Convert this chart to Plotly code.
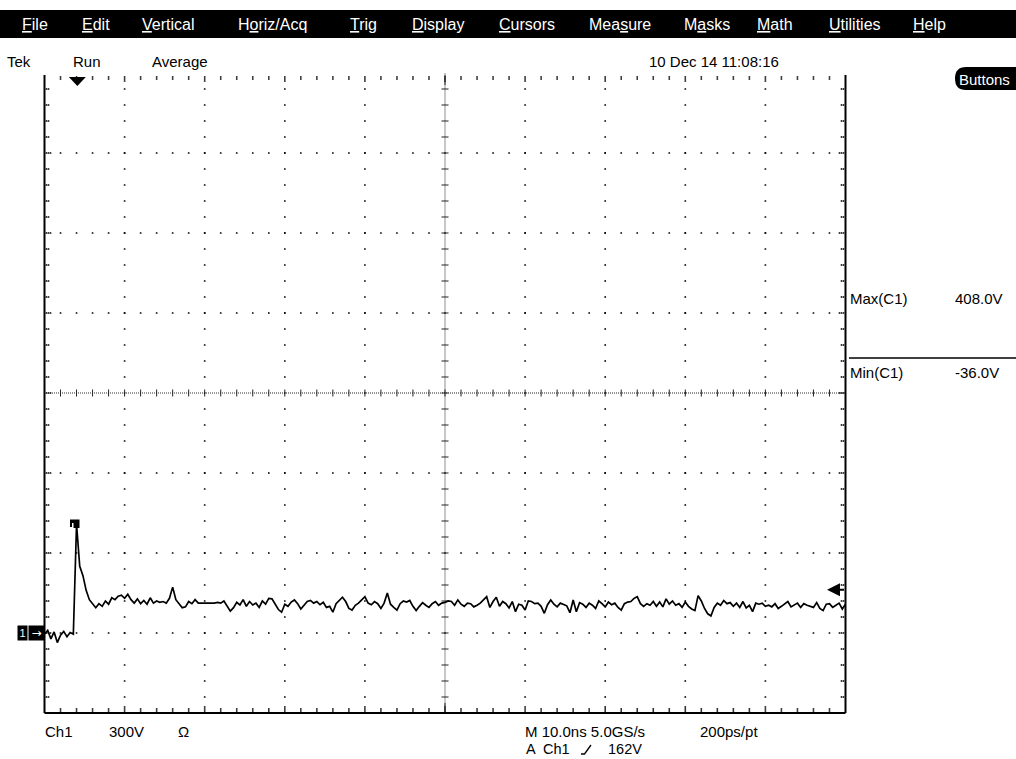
import numpy as np
import plotly.graph_objects as go

W, H = 1016, 759
FONT = "Liberation Sans, Arial, sans-serif"

# ---- acquisition settings ----
volts_per_div = 300
ns_per_div = 10
sample_step_ns = 0.4
trigger_level_v = 162
trigger_pos_ns = 4.1
ground_div_from_bottom = 1          # channel 1 ground marker position

# ---- Ch1 record (volts), one value every 0.4 ns from 0 to 100 ns ----
ch1_volts = [
    # 0.0 - 24.8 ns
    -4, 10, -22, 4, -36, -8, 6, -14, 2, -4,
    408, 250, 215, 160, 125, 108, 95, 110, 100, 120,
    108, 132, 125, 138, 142, 130, 145, 125, 112, 128,
    110, 122, 108, 132, 112, 120, 115, 118, 112, 130,
    172, 125, 110, 95, 98, 118, 110, 125, 112, 112,
    112, 112, 112, 112, 115, 112, 120, 100, 82, 95,
    115, 105, 125,
    # 25.2 - 50.0 ns
    100, 118, 105, 112, 96, 120, 108, 130, 128, 110,
    88, 78, 108, 100, 116, 124, 110, 90, 104, 118,
    122, 112, 118, 106, 115, 96, 100, 78, 110, 122,
    134, 118, 92, 86, 104, 112, 126, 136, 112, 106,
    118, 110, 92, 112, 150, 108, 96, 86, 110, 120,
    116, 122, 100, 84, 100, 114, 104, 96, 110, 118,
    104, 112, 115,
    # 50.4 - 75.2 ns
    120, 118, 104, 124, 108, 100, 112, 110, 98, 104,
    112, 124, 136, 96, 118, 134, 100, 118, 110, 94,
    118, 80, 108, 104, 86, 120, 118, 110, 112, 100,
    74, 106, 124, 108, 98, 112, 108, 102, 76, 124,
    80, 114, 108, 96, 112, 104, 92, 120, 110, 98,
    116, 106, 112, 96, 86, 110, 116, 118, 130, 136,
    110, 100, 110,
    # 75.6 - 100.0 ns
    104, 118, 100, 116, 98, 128, 108, 120, 104,
    110, 96, 116, 100, 90, 84, 140, 120, 92, 72,
    64, 96, 112, 104, 122, 110, 114, 100, 112, 96,
    118, 94, 104, 80, 112, 108, 112, 100, 104, 98,
    110, 92, 100, 108, 118, 98, 106, 112, 96, 110,
    104, 100, 96, 114, 92, 84, 108, 110, 96, 104,
    112, 90, 108,
]
assert len(ch1_volts) == 251, len(ch1_volts)
t_ns = np.arange(len(ch1_volts)) * sample_step_ns

# ---- menu bar ----
menu_items = ["<u>F</u>ile", "<u>E</u>dit", "<u>V</u>ertical", "H<u>o</u>riz/Acq",
              "<u>T</u>rig", "<u>D</u>isplay", "<u>C</u>ursors", "Mea<u>s</u>ure",
              "M<u>a</u>sks", "<u>M</u>ath", "<u>U</u>tilities", "<u>H</u>elp"]
menu_x = [21, 81, 141, 237, 349, 411, 498, 588, 683, 756, 828, 912]

# ---- graticule geometry (pixels) ----
L, R, T, B = 44.5, 845.5, 73.0, 713.0
n_xdiv, n_ydiv = 10, 8
x_min, x_max = 0.0, n_xdiv * ns_per_div
y_min = -ground_div_from_bottom * volts_per_div
y_max = y_min + n_ydiv * volts_per_div
px_per_ns = (R - L) / (x_max - x_min)
px_per_v = (B - T) / (y_max - y_min)
minor_x = ns_per_div / 5
minor_y = volts_per_div / 5
x_mid = (x_min + x_max) / 2
y_mid = (y_min + y_max) / 2


def fx(p):
    return p / W


def fy(p):
    return 1 - p / H


fig = go.Figure()

# ---- graticule dots on the division lines ----
gx, gy = [], []
for k in range(1, n_xdiv):
    xv = k * ns_per_div
    if xv == x_mid:
        continue
    for yv in np.arange(y_min + minor_y, y_max - 1e-6, minor_y):
        gx.append(xv); gy.append(yv)
for j in range(1, n_ydiv):
    yv = y_min + j * volts_per_div
    if yv == y_mid:
        continue
    for xv in np.arange(x_min + minor_x, x_max - 1e-6, minor_x):
        gx.append(xv); gy.append(yv)

# frame ticks (dots pointing inward)
for yv in np.arange(y_min + minor_y, y_max - 1e-6, minor_y):
    major = abs((yv - y_min) % volts_per_div) < 1e-6
    offs = [2, 4, 6] if major else [2, 4]
    for o in offs:
        gx.append(x_min + o / px_per_ns); gy.append(yv)
        gx.append(x_max - o / px_per_ns); gy.append(yv)
for xv in np.arange(x_min + minor_x, x_max - 1e-6, minor_x):
    major = abs(xv % ns_per_div) < 1e-6
    offs = [2, 4, 6] if major else [2, 4]
    for o in offs:
        gx.append(xv); gy.append(y_min + o / px_per_v)
        gx.append(xv); gy.append(y_max - (o + 2) / px_per_v)

fig.add_trace(go.Scatter(x=gx, y=gy, mode="markers", hoverinfo="skip",
                         marker=dict(symbol="square", size=1.6, color="black",
                                     line=dict(width=0))))

# centre cross: fine dots every 2 px
cx, cy = [], []
for yv in np.arange(y_min, y_max + 1e-6, 2 / px_per_v):
    cx.append(x_mid); cy.append(yv)
for xv in np.arange(x_min, x_max + 1e-6, 2 / px_per_ns):
    cx.append(xv); cy.append(y_mid)
fig.add_trace(go.Scatter(x=cx, y=cy, mode="markers", hoverinfo="skip",
                         marker=dict(symbol="square", size=1.1, color="#333",
                                     line=dict(width=0))))

# centre-cross tick marks
tx, ty = [], []
for yv in np.arange(y_min + minor_y, y_max - 1e-6, minor_y):
    tx += [x_mid - 3.5 / px_per_ns, x_mid + 3.5 / px_per_ns, None]
    ty += [yv, yv, None]
for xv in np.arange(x_min + minor_x, x_max - 1e-6, minor_x):
    tx += [xv, xv, None]
    ty += [y_mid - 3.5 / px_per_v, y_mid + 3.5 / px_per_v, None]
# longer centre ticks on the top and bottom edges
tx += [x_mid, x_mid, None, x_mid, x_mid, None]
ty += [y_min, y_min + 10 / px_per_v, None, y_max - 2 / px_per_v, y_max - 12 / px_per_v, None]
fig.add_trace(go.Scatter(x=tx, y=ty, mode="lines", hoverinfo="skip",
                         line=dict(color="#222", width=1)))

# ---- waveform ----
fig.add_trace(go.Scatter(x=t_ns, y=ch1_volts, mode="lines", hoverinfo="skip",
                         line=dict(color="black", width=1.7)))

shapes = []
# frame (no top edge)
for x0, y0, x1, y1 in [(L, T + 2, L, B), (L, B, R, B), (R, T + 2, R, B)]:
    shapes.append(dict(type="line", xref="paper", yref="paper",
                       x0=fx(x0), y0=fy(y0), x1=fx(x1), y1=fy(y1),
                       line=dict(color="black", width=2)))
# menu bar
shapes.append(dict(type="rect", xref="paper", yref="paper", x0=0, x1=1,
                   y0=fy(38), y1=fy(10), fillcolor="black", line=dict(width=0)))
# "Buttons" pill
shapes.append(dict(type="path", xref="paper", yref="paper",
                   path=(f"M {fx(966)} {fy(67)} L {fx(1022)} {fy(67)} L {fx(1022)} {fy(90)} "
                         f"L {fx(966)} {fy(90)} Q {fx(955)} {fy(90)} {fx(955)} {fy(78.5)} "
                         f"Q {fx(955)} {fy(67)} {fx(966)} {fy(67)} Z"),
                   fillcolor="black", line=dict(width=0)))
# measurement separator
shapes.append(dict(type="line", xref="paper", yref="paper",
                   x0=fx(849), x1=fx(1016), y0=fy(358), y1=fy(358),
                   line=dict(color="black", width=1.5)))
# trigger position marker
tp = L + (trigger_pos_ns - x_min) * px_per_ns
shapes.append(dict(type="path", xref="paper", yref="paper",
                   path=f"M {fx(tp - 8.5)} {fy(77)} L {fx(tp + 8.5)} {fy(77)} L {fx(tp)} {fy(86)} Z",
                   fillcolor="black", line=dict(width=0)))
# peak marker on the edge
shapes.append(dict(type="path", xref="paper", yref="paper",
                   path=(f"M {fx(70)} {fy(519.5)} L {fx(79.5)} {fy(519.5)} L {fx(79.5)} {fy(528)} "
                         f"L {fx(73.5)} {fy(528)} L {fx(73.5)} {fy(523)} L {fx(72)} {fy(523)} "
                         f"L {fx(72)} {fy(527)} L {fx(70)} {fy(527)} Z"),
                   fillcolor="black", line=dict(width=0)))
# rising-slope symbol
shapes.append(dict(type="path", xref="paper", yref="paper",
                   path=f"M {fx(581)} {fy(754)} L {fx(584.5)} {fy(754)} L {fx(591)} {fy(745)}",
                   line=dict(color="black", width=1.3)))
fig.update_layout(shapes=shapes)


def label(text, x, y, size=15, color="black", family=FONT, anchor="left"):
    fig.add_annotation(text=text, x=fx(x), y=fy(y), xref="paper", yref="paper",
                       xanchor=anchor, yanchor="middle", showarrow=False,
                       borderpad=0, font=dict(family=family, size=size, color=color))


for txt, mx in zip(menu_items, menu_x):
    label(txt, mx, 25, size=16, color="white")

label("Tek", 6, 61)
label("Run", 72, 61)
label("Average", 151, 61)
label("10 Dec 14 11:08:16", 648, 61)
label("Buttons", 958, 79, size=15, color="white")

label("Max(C1)", 849, 298)
label(f"{max(ch1_volts):.1f}V", 954, 298)
label("Min(C1)", 849, 372)
label(f"{min(ch1_volts):.1f}V", 954, 372)

label("Ch1", 44, 731)
label(f"{volts_per_div}V", 108, 731)
label("Ω", 177, 731)
label(f"M {ns_per_div:.1f}ns 5.0GS/s", 524, 731)
label("200ps/pt", 699, 731)
label("A", 525, 749, size=14.5)
label("Ch1", 542, 749, size=14.5)
label(f"{trigger_level_v}V", 607, 749, size=14.5)

# channel 1 ground marker
fig.add_annotation(text="1", xref="paper", yref="y", x=fx(22.5), y=0,
                   xanchor="center", yanchor="middle", showarrow=False,
                   width=9, height=14, bgcolor="black", borderpad=0,
                   font=dict(family=FONT, size=11, color="white"))
fig.add_annotation(text="→", xref="paper", yref="y", x=fx(36.5), y=0,
                   xanchor="center", yanchor="middle", showarrow=False,
                   width=15, height=14, bgcolor="black", borderpad=0,
                   font=dict(family="DejaVu Sans", size=12, color="white"))

# trigger level arrow on the right edge
fig.add_annotation(text="", xref="x", yref="y", axref="x", ayref="y",
                   x=x_max - 18.5 / px_per_ns, y=trigger_level_v,
                   ax=x_max, ay=trigger_level_v, showarrow=True,
                   arrowhead=2, arrowsize=1.3, arrowwidth=2, arrowcolor="black", standoff=0)

fig.update_layout(
    width=W, height=H, margin=dict(l=0, r=0, t=0, b=0), autosize=False,
    paper_bgcolor="white", plot_bgcolor="white", showlegend=False,
    xaxis=dict(domain=[L / W, R / W], range=[x_min, x_max], visible=False, fixedrange=True),
    yaxis=dict(domain=[1 - B / H, 1 - T / H], range=[y_min, y_max], visible=False, fixedrange=True),
)

fig.write_html("out.html")
